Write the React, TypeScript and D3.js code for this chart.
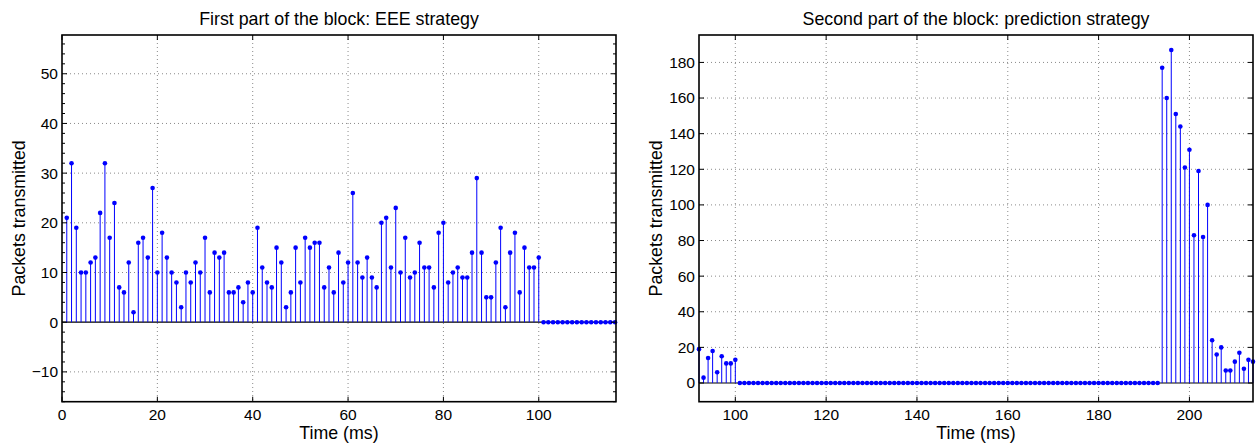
import React from "react";
import * as d3 from "d3";

// Packets transmitted per millisecond, first part of the block (EEE strategy), t = 1..116 ms
const eeeTime: number[] = d3.range(1, 117);
const eeePackets: number[] = [
  21, 32, 19, 10, 10, 12, 13, 22, 32, 17, 24, 7, 6, 12, 2, 16, 17, 13, 27, 10,
  18, 13, 10, 8, 3, 10, 8, 12, 10, 17, 6, 14, 13, 14, 6, 6, 7, 4, 8, 6,
  19, 11, 8, 7, 15, 12, 3, 6, 15, 8, 17, 15, 16, 16, 7, 11, 6, 14, 8, 12,
  26, 12, 9, 13, 9, 7, 20, 21, 11, 23, 10, 17, 9, 10, 16, 11, 11, 7, 18, 20,
  8, 10, 11, 9, 9, 14, 29, 14, 5, 5, 12, 19, 3, 14, 18, 6, 15, 11, 11, 13,
  0, 0, 0, 0, 0, 0, 0, 0, 0, 0, 0, 0, 0, 0, 0, 0,
];

// Second part of the block (prediction strategy), t = 92..214 ms
const predTime: number[] = d3.range(92, 215);
const predPackets: number[] = [
  19, 3, 14, 18, 6, 15, 11, 11, 13,
  0, 0, 0, 0, 0, 0, 0, 0, 0, 0, 0, 0, 0, 0, 0, 0, 0, 0, 0, 0,
  0, 0, 0, 0, 0, 0, 0, 0, 0, 0, 0, 0, 0, 0, 0, 0, 0, 0, 0, 0,
  0, 0, 0, 0, 0, 0, 0, 0, 0, 0, 0, 0, 0, 0, 0, 0, 0, 0, 0, 0,
  0, 0, 0, 0, 0, 0, 0, 0, 0, 0, 0, 0, 0, 0, 0, 0, 0, 0, 0, 0,
  0, 0, 0, 0, 0, 0, 0, 0, 0, 0, 0, 0, 0,
  177, 160, 187, 151, 144, 121, 131, 83, 119, 82, 100, 24, 16, 20, 7, 7, 12, 17, 8, 13, 12,
];

const eeeXTicks: number[] = [0, 20, 40, 60, 80, 100];
const eeeYTicks: number[] = [-10, 0, 10, 20, 30, 40, 50];
const eeeYMinor: number[] = d3.range(-16, 58, 2).filter((v) => v % 10 !== 0);
const predXTicks: number[] = [100, 120, 140, 160, 180, 200];
const predYTicks: number[] = [0, 20, 40, 60, 80, 100, 120, 140, 160, 180];

const titles: string[] = [
  "First part of the block: EEE strategy",
  "Second part of the block: prediction strategy",
];
const xLabel = "Time (ms)";
const yLabel = "Packets transmitted";

const FONT = "'Liberation Sans', Arial, Helvetica, sans-serif";
const BLUE = "#0000ff";

type PanelProps = {
  x: number[];
  y: number[];
  xDomain: [number, number];
  yDomain: [number, number];
  left: number;
  right: number;
  xTicks: number[];
  yTicks: number[];
  yMinor: number[];
  title: string;
};

function StemPanel(p: PanelProps) {
  const top = 35;
  const bottom = 401.7;
  const xs = d3.scaleLinear().domain(p.xDomain).range([p.left, p.right]);
  const ys = d3.scaleLinear().domain(p.yDomain).range([bottom, top]);
  const fmt = d3.format("d");
  const y0 = ys(0);
  const tickLen = 5;
  const minorLen = 3;
  const cx = (p.left + p.right) / 2;
  const cy = (top + bottom) / 2;

  return (
    <g>
      {/* dotted grid */}
      <g stroke="#8a8a8a" strokeWidth={1} strokeDasharray="1,3">
        {p.xTicks
          .filter((t) => xs(t) > p.left + 1 && xs(t) < p.right - 1)
          .map((t) => (
            <line key={"gx" + t} x1={xs(t)} x2={xs(t)} y1={top} y2={bottom} />
          ))}
        {p.yTicks
          .filter((t) => t !== 0)
          .map((t) => (
            <line key={"gy" + t} x1={p.left} x2={p.right} y1={ys(t)} y2={ys(t)} />
          ))}
      </g>

      {/* stem baseline */}
      <line x1={p.left} x2={p.right} y1={y0} y2={y0} stroke="#000" strokeWidth={1.2} />

      {/* stems */}
      <g stroke={BLUE} strokeWidth={1}>
        {p.x.map((t, i) =>
          p.y[i] !== 0 ? (
            <line key={"s" + t} x1={xs(t)} x2={xs(t)} y1={y0} y2={ys(p.y[i])} />
          ) : null
        )}
      </g>
      <g fill={BLUE}>
        {p.x.map((t, i) => (
          <circle key={"m" + t} cx={xs(t)} cy={ys(p.y[i])} r={2.3} />
        ))}
      </g>

      {/* axes box and ticks */}
      <rect
        x={p.left}
        y={top}
        width={p.right - p.left}
        height={bottom - top}
        fill="none"
        stroke="#000"
        strokeWidth={1.6}
      />
      <g stroke="#000" strokeWidth={1}>
        {p.xTicks.map((t) => (
          <g key={"tx" + t}>
            <line x1={xs(t)} x2={xs(t)} y1={bottom} y2={bottom - tickLen} />
            <line x1={xs(t)} x2={xs(t)} y1={top} y2={top + tickLen} />
          </g>
        ))}
        {p.yTicks.map((t) => (
          <g key={"ty" + t}>
            <line x1={p.left} x2={p.left + tickLen} y1={ys(t)} y2={ys(t)} />
            <line x1={p.right} x2={p.right - tickLen} y1={ys(t)} y2={ys(t)} />
          </g>
        ))}
        {p.yMinor.map((t) => (
          <g key={"my" + t}>
            <line x1={p.left} x2={p.left + minorLen} y1={ys(t)} y2={ys(t)} />
            <line x1={p.right} x2={p.right - minorLen} y1={ys(t)} y2={ys(t)} />
          </g>
        ))}
      </g>

      {/* tick labels */}
      <g fontFamily={FONT} fontSize={15.5} fill="#000">
        {p.xTicks.map((t) => (
          <text key={"lx" + t} x={xs(t)} y={419.5} textAnchor="middle">
            {fmt(t)}
          </text>
        ))}
        {p.yTicks.map((t) => (
          <text key={"ly" + t} x={p.left - 4} y={ys(t)} dy="0.35em" textAnchor="end">
            {fmt(t)}
          </text>
        ))}
      </g>

      {/* title and axis labels */}
      <g fontFamily={FONT} fontSize={17.8} fill="#000">
        <text x={cx} y={25} textAnchor="middle">
          {p.title}
        </text>
        <text x={cx} y={438.5} textAnchor="middle">
          {xLabel}
        </text>
        <text
          transform={`translate(${p.left - 37},${cy}) rotate(-90)`}
          textAnchor="middle"
        >
          {yLabel}
        </text>
      </g>
    </g>
  );
}

export default function App() {
  return (
    <svg
      width={1256}
      height={443}
      style={{ position: "absolute", left: 0, top: 0, background: "#fff" }}
    >
      <rect width={1256} height={443} fill="#fff" />
      <StemPanel
        x={eeeTime}
        y={eeePackets}
        xDomain={[0, 116.2]}
        yDomain={[-16, 57.8]}
        left={62}
        right={616}
        xTicks={eeeXTicks}
        yTicks={eeeYTicks}
        yMinor={eeeYMinor}
        title={titles[0]}
      />
      <StemPanel
        x={predTime}
        y={predPackets}
        xDomain={[92, 214]}
        yDomain={[-10.5, 195.4]}
        left={699}
        right={1253}
        xTicks={predXTicks}
        yTicks={predYTicks}
        yMinor={[]}
        title={titles[1]}
      />
    </svg>
  );
}
